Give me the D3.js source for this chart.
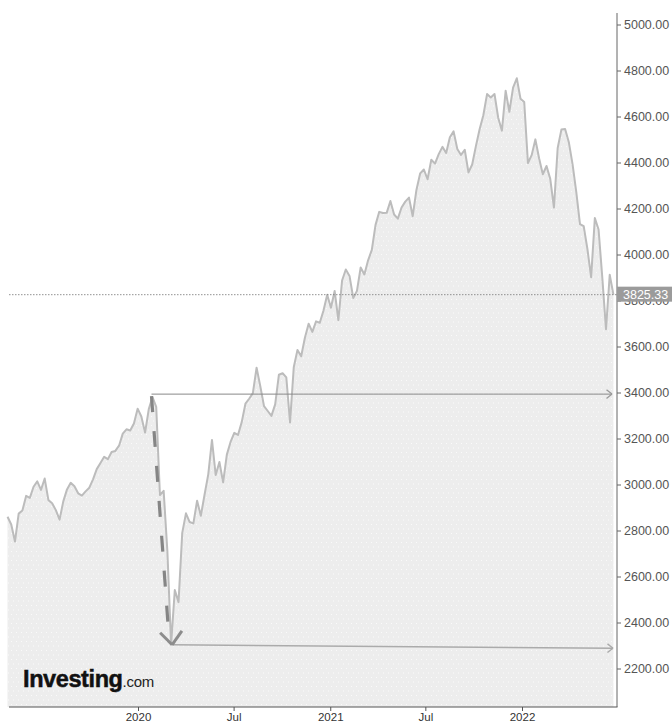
<!DOCTYPE html>
<html><head><meta charset="utf-8">
<script src="https://cdn.jsdelivr.net/npm/d3@7"></script>
<style>
body{margin:0;background:#fff;}
svg{display:block;font-family:"Liberation Sans",Arial,Helvetica,sans-serif;}
</style>
</head><body>
<svg id="chart" width="672" height="725"></svg>
<script>
// ---- data ----
const firstWeek = "2019-05-17"; // weekly closes, one per week from this Friday
const closes = [
  2859.53,2826.06,2752.06,2873.34,2886.98,2950.46,2941.76,2990.41,3013.77,2976.61,
  3025.86,2932.05,2918.65,2888.68,2847.11,2926.46,2978.71,3007.39,2992.07,2961.79,
  2952.01,2970.27,2986.20,3022.55,3066.91,3093.08,3120.46,3110.29,3140.98,3145.91,
  3168.80,3221.22,3240.02,
  3234.85,3265.35,3329.62,3295.47,3225.52,3327.71,3380.16,3337.75,2954.22,2972.37,
  2711.02,2304.92,2541.47,2488.65,2789.82,2874.56,2836.74,2830.71,2929.80,2863.70,
  2955.45,3044.31,3193.93,3041.31,3097.74,3009.05,3130.01,3185.04,3224.73,3215.63,
  3271.12,3351.28,3372.85,3397.16,3508.01,3426.96,3340.97,3319.47,3298.46,3348.44,
  3477.14,3483.81,3465.39,3269.96,3509.44,3585.15,3557.54,3638.35,3699.12,3663.46,
  3709.41,3703.06,3756.07,
  3824.68,3768.25,3841.47,3714.24,3886.83,3934.83,3906.71,3811.15,3841.94,3943.34,
  3913.10,3974.54,4019.87,4128.80,4185.47,4180.17,4181.17,4232.60,4173.85,4155.86,
  4204.11,4229.89,4247.44,4166.45,4280.70,4352.34,4369.55,4327.16,4411.79,4395.26,
  4436.52,4468.00,4441.67,4509.37,4535.43,4458.58,4432.99,4455.48,4357.04,4391.34,
  4471.37,4544.90,4605.38,4697.53,4682.85,4697.96,4594.62,4538.43,4712.02,4620.64,
  4725.79,4766.18,
  4677.03,4662.85,4397.94,4431.85,4500.53,4418.64,4348.87,4384.65,4328.87,4204.31,
  4463.12,4543.06,4545.86,4488.28,4392.59,4271.78,4131.93,4123.34,4023.89,3901.36,
  4158.24,4108.54,3900.86,3674.84,3911.74,3825.33
];
const yTicks = [2200,2400,2600,2800,3000,3200,3400,3600,3800,4000,4200,4400,4600,4800,5000];
const xTickDates = ["2020-01-01","2020-07-01","2021-01-01","2021-07-01","2022-01-01"];
const xTickLabels = ["2020","Jul","2021","Jul","2022"];
const lastPrice = 3825.33;
// annotations: peak -> low drawdown
const annoDates = ["2020-02-14","2020-03-20"];
const annoValues = [3393, 2303];
const annoEndValues = [3393, 2288];

// ---- layout ----
const L = 9, R = 617, T = 13, B = 707;
const parse = d3.timeParse("%Y-%m-%d");
const start = parse(firstWeek);
const data = closes.map((v, i) => ({date: d3.timeWeek.offset(start, i), v}));

const y = d3.scaleLinear().domain([2200, 5000]).range([668.5, 24.5]);
const xAxisScale = d3.scaleTime().domain([parse("2020-01-01"), parse("2022-01-01")]).range([138, 522]);
const xData = d3.scaleTime().domain([parse("2020-02-14"), parse("2022-06-17")]).range([152.5, 606]);

const svg = d3.select("#chart");
const defs = svg.append("defs");
const pat = defs.append("pattern").attr("id","dots").attr("patternUnits","userSpaceOnUse")
  .attr("width",10).attr("height",9);
pat.append("rect").attr("width",10).attr("height",9).attr("fill","#ededed");
[[1,2],[6,2],[3,6.5],[8,6.5]].forEach(([a,b]) =>
  pat.append("rect").attr("x",a).attr("y",b).attr("width",1).attr("height",1)
     .attr("fill","#ffffff").attr("opacity",0.75));

// area + line
const area = d3.area().x(d => xData(d.date)).y0(B).y1(d => y(d.v)).curve(d3.curveLinear);
svg.append("path").datum(data).attr("d", area).attr("fill","url(#dots)");
const line = d3.line().x(d => xData(d.date)).y(d => y(d.v));
svg.append("path").datum(data).attr("d", line).attr("fill","none")
  .attr("stroke","#bcbcbc").attr("stroke-width",2).attr("stroke-linejoin","round");

// last price dotted line
svg.append("line").attr("x1",L).attr("x2",R).attr("y1",y(lastPrice)).attr("y2",y(lastPrice))
  .attr("stroke","#777").attr("stroke-width",0.8).attr("stroke-dasharray","1.5,1.5");

// annotations
function chevron(g, tipX, tipY, fromX, fromY, len, spreadDeg, color, w) {
  const ang = Math.atan2(fromY - tipY, fromX - tipX);
  const s = spreadDeg * Math.PI / 180;
  [ang - s, ang + s].forEach(a => {
    g.append("line").attr("x1",tipX).attr("y1",tipY)
      .attr("x2",tipX + len*Math.cos(a)).attr("y2",tipY + len*Math.sin(a))
      .attr("stroke",color).attr("stroke-width",w).attr("stroke-linecap","butt");
  });
}
const ag = svg.append("g");
const px = xData(parse(annoDates[0])), py = y(annoValues[0]);
const lx = xData(parse(annoDates[1])) + 1, ly = y(annoValues[1]);
const endX = R - 5;
// top horizontal
ag.append("line").attr("x1",px-1).attr("y1",py).attr("x2",endX).attr("y2",y(annoEndValues[0]))
  .attr("stroke","#888").attr("stroke-width",1);
chevron(ag, endX, y(annoEndValues[0]), px, py, 7, 38, "#9a9a9a", 1.3);
// bottom horizontal
ag.append("line").attr("x1",lx).attr("y1",ly).attr("x2",endX+1).attr("y2",y(annoEndValues[1]))
  .attr("stroke","#ababab").attr("stroke-width",1.4);
chevron(ag, endX+1, y(annoEndValues[1]), lx, ly, 7, 38, "#ababab", 1.4);
// dashed drop arrow
ag.append("line").attr("x1",px-1).attr("y1",py+2).attr("x2",lx-3).attr("y2",ly-6)
  .attr("stroke","#858585").attr("stroke-width",3.2).attr("stroke-dasharray","16,19");
chevron(ag, lx, ly, px-1, py, 17, 40, "#8c8c8c", 3);

// y axis
const yAx = svg.append("g").attr("transform",`translate(${R},0)`)
  .call(d3.axisRight(y).tickValues(yTicks).tickSize(4).tickPadding(3).tickFormat(d3.format(".2f")));
yAx.select(".domain").remove();
yAx.selectAll(".tick line").attr("stroke","#666");
yAx.selectAll(".tick text").attr("fill","#555").style("font-size","12.5px")
  .style("font-family","'Liberation Sans',Arial,sans-serif");
svg.append("line").attr("x1",R).attr("x2",R).attr("y1",T).attr("y2",B).attr("stroke","#666").attr("stroke-width",1);

// x axis
const xAx = svg.append("g").attr("transform",`translate(0,${B})`)
  .call(d3.axisBottom(xAxisScale).tickValues(xTickDates.map(parse)).tickSize(4).tickPadding(2)
    .tickFormat((d,i) => xTickLabels[i]));
xAx.select(".domain").remove();
xAx.selectAll(".tick line").attr("stroke","#555");
xAx.selectAll(".tick text").attr("fill","#333").style("font-size","11.5px")
  .style("font-family","'Liberation Sans',Arial,sans-serif");
svg.append("line").attr("x1",L).attr("x2",R+0.5).attr("y1",B).attr("y2",B).attr("stroke","#555").attr("stroke-width",1);

// last price label
const ly2 = y(lastPrice);
svg.append("rect").attr("x",R).attr("y",ly2-8).attr("width",56).attr("height",15).attr("fill","#9b9b9b");
svg.append("text").attr("x",R+6).attr("y",ly2).attr("dy","0.35em").attr("fill","#fff")
  .style("font-size","12.5px").text(d3.format(".2f")(lastPrice));

// logo
const logo = svg.append("text").attr("x",23).attr("y",687).attr("fill","#111")
  .attr("stroke","#111").attr("stroke-width",0.5);
logo.append("tspan").text("Investing").style("font-size","23.5px").style("font-weight","bold")
  .attr("letter-spacing","-0.4");
logo.append("tspan").text(".com").style("font-size","15px").attr("fill","#222")
  .attr("stroke","none").attr("letter-spacing","-0.3");
</script>
</body></html>
